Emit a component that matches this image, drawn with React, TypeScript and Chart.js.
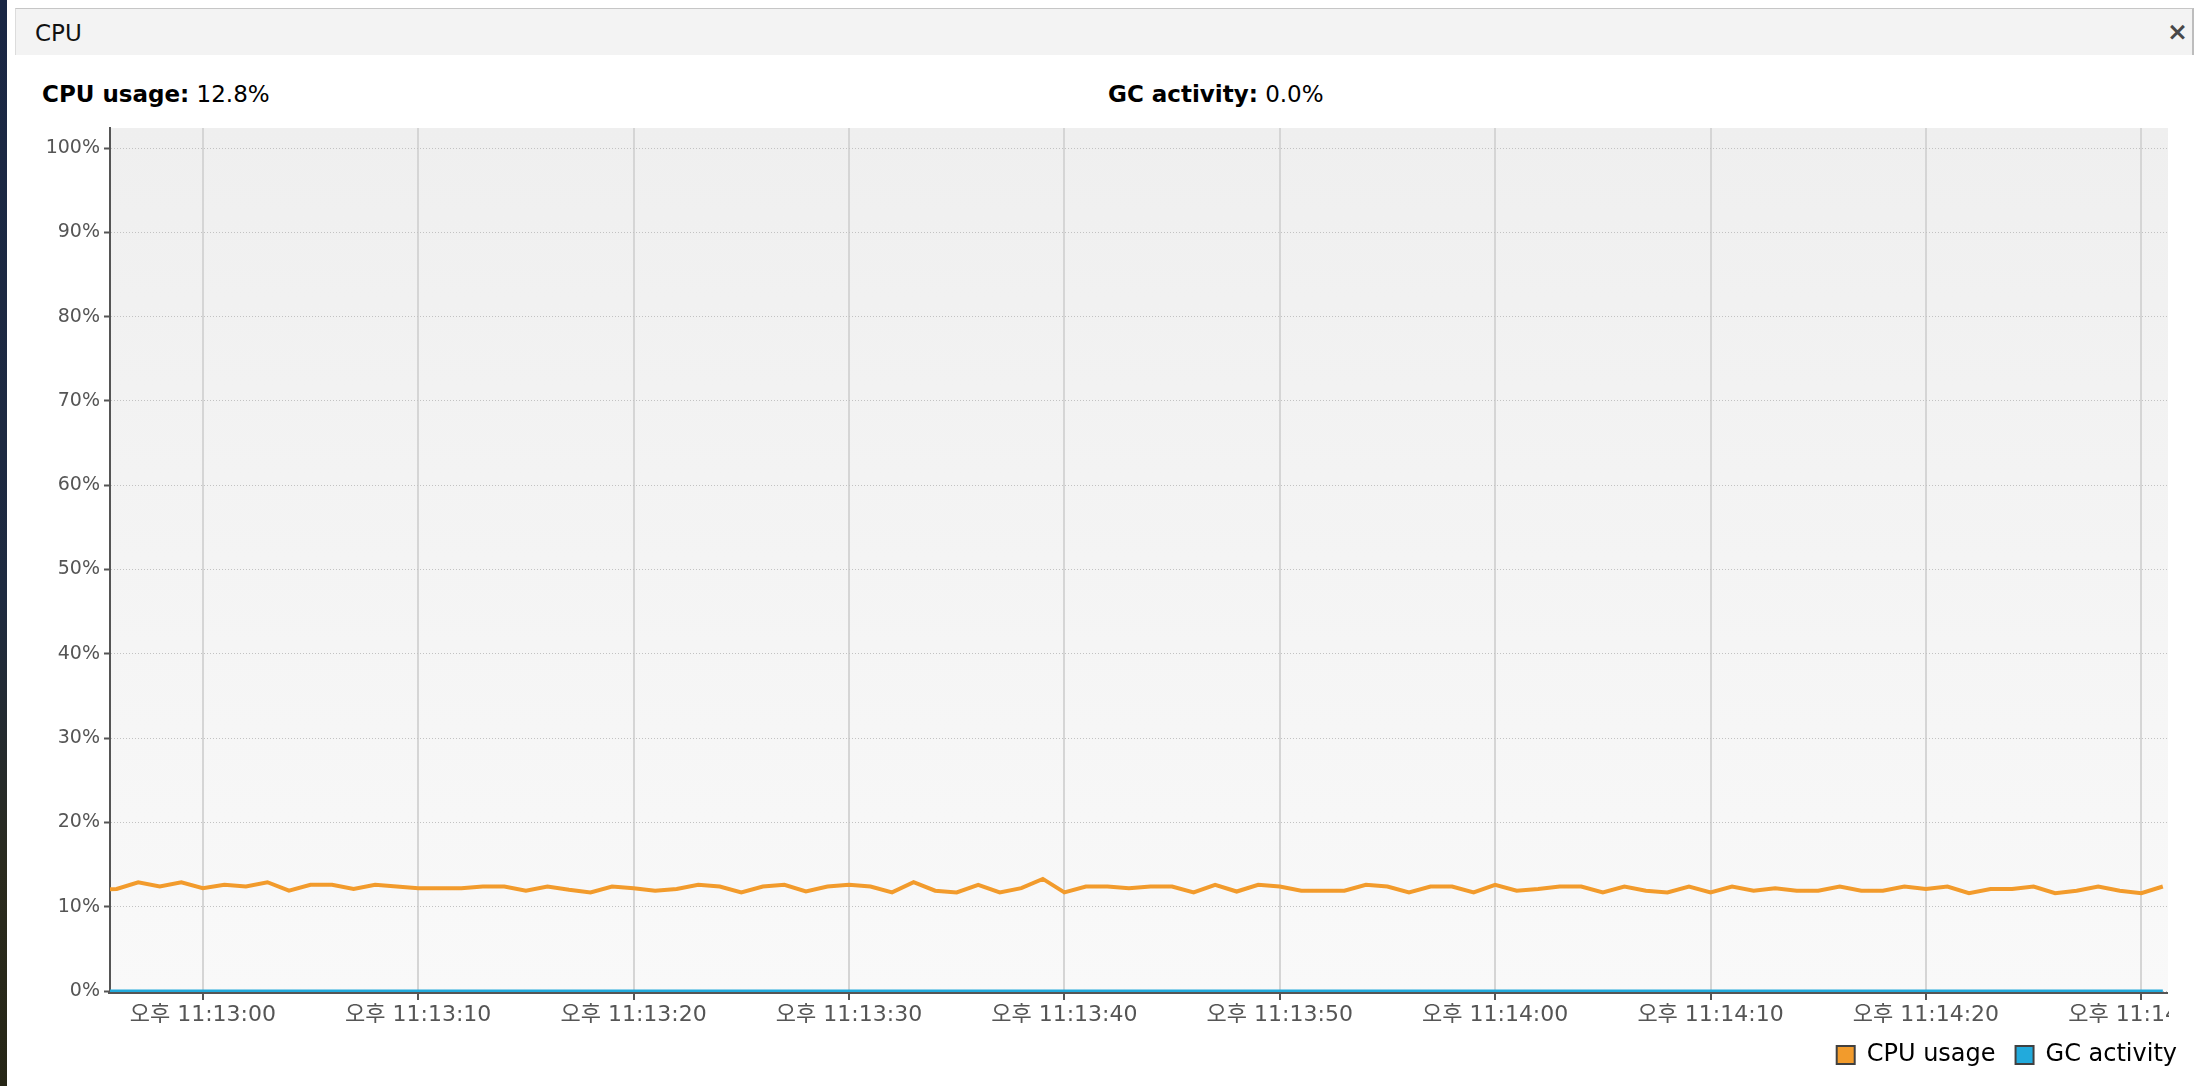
import React, { useEffect, useRef } from 'react';
import { Chart, registerables } from 'chart.js';

Chart.register(...registerables);

// Sample times in seconds after 오후 11:12:00 (one sample per second)
const sampleSeconds = [
  55, 56, 57, 58, 59, 60, 61, 62, 63, 64, 65, 66, 67, 68, 69, 70, 71, 72, 73, 74,
  75, 76, 77, 78, 79, 80, 81, 82, 83, 84, 85, 86, 87, 88, 89, 90, 91, 92, 93, 94,
  95, 96, 97, 98, 99, 100, 101, 102, 103, 104, 105, 106, 107, 108, 109, 110, 111, 112, 113, 114,
  115, 116, 117, 118, 119, 120, 121, 122, 123, 124, 125, 126, 127, 128, 129, 130, 131, 132, 133, 134,
  135, 136, 137, 138, 139, 140, 141, 142, 143, 144, 145, 146, 147, 148, 149, 150, 151,
];

const cpuUsage = [
  12.0, 12.1, 12.9, 12.4, 12.9, 12.2, 12.6, 12.4, 12.9, 11.9, 12.6, 12.6, 12.1, 12.6, 12.4, 12.2, 12.2, 12.2, 12.4, 12.4,
  11.9, 12.4, 12.0, 11.7, 12.4, 12.2, 11.9, 12.1, 12.6, 12.4, 11.7, 12.4, 12.6, 11.8, 12.4, 12.6, 12.4, 11.7, 12.9, 11.9,
  11.7, 12.6, 11.7, 12.2, 13.3, 11.7, 12.4, 12.4, 12.2, 12.4, 12.4, 11.7, 12.6, 11.8, 12.6, 12.4, 11.9, 11.9, 11.9, 12.6,
  12.4, 11.7, 12.4, 12.4, 11.7, 12.6, 11.9, 12.1, 12.4, 12.4, 11.7, 12.4, 11.9, 11.7, 12.4, 11.7, 12.4, 11.9, 12.2, 11.9,
  11.9, 12.4, 11.9, 11.9, 12.4, 12.1, 12.4, 11.6, 12.1, 12.1, 12.4, 11.6, 11.9, 12.4, 11.9, 11.6, 12.4,
];

const gcActivity = [
  0, 0, 0, 0, 0, 0, 0, 0, 0, 0, 0, 0, 0, 0, 0, 0, 0, 0, 0, 0,
  0, 0, 0, 0, 0, 0, 0, 0, 0, 0, 0, 0, 0, 0, 0, 0, 0, 0, 0, 0,
  0, 0, 0, 0, 0, 0, 0, 0, 0, 0, 0, 0, 0, 0, 0, 0, 0, 0, 0, 0,
  0, 0, 0, 0, 0, 0, 0, 0, 0, 0, 0, 0, 0, 0, 0, 0, 0, 0, 0, 0,
  0, 0, 0, 0, 0, 0, 0, 0, 0, 0, 0, 0, 0, 0, 0, 0, 0,
];

const xTickValues = [60, 70, 80, 90, 100, 110, 120, 130, 140, 150];
const xTickLabels = [
  '오후 11:13:00', '오후 11:13:10', '오후 11:13:20', '오후 11:13:30', '오후 11:13:40',
  '오후 11:13:50', '오후 11:14:00', '오후 11:14:10', '오후 11:14:20', '오후 11:14:30',
];
const yTickValues = [0, 10, 20, 30, 40, 50, 60, 70, 80, 90, 100];

const seriesNames = ['CPU usage', 'GC activity'];
const statLabels = ['CPU usage:', 'GC activity:'];
const statValues = ['12.8%', '0.0%'];

const X_MIN = 55.69;
const X_MAX = 151.24;
const Y_MAX = 102.38;

const ORANGE = '#f29b2c';
const BLUE = '#22aadc';
const AXIS = '#555555';
const FONT = "'DejaVu Sans', 'Noto Sans CJK KR', sans-serif";

const bgPlugin = {
  id: 'plotBg',
  beforeDraw(chart: any) {
    const { ctx, chartArea } = chart;
    if (!chartArea) return;
    const g = ctx.createLinearGradient(0, chartArea.top, 0, chartArea.bottom);
    g.addColorStop(0, '#efefef');
    g.addColorStop(1, '#f9f9f9');
    ctx.save();
    ctx.fillStyle = g;
    ctx.fillRect(chartArea.left, chartArea.top, chartArea.right - chartArea.left, chartArea.bottom - chartArea.top);
    ctx.restore();
  },
};

// Horizontal axis line sits just below the plot, drawn over the series
const xAxisLinePlugin = {
  id: 'xAxisLine',
  afterDatasetsDraw(chart: any) {
    const { ctx, chartArea } = chart;
    ctx.save();
    ctx.strokeStyle = AXIS;
    ctx.lineWidth = 2;
    ctx.beginPath();
    ctx.moveTo(chartArea.left - 2, chartArea.bottom + 2);
    ctx.lineTo(chartArea.right, chartArea.bottom + 2);
    ctx.stroke();
    ctx.restore();
  },
};

const clipLabelsPlugin = {
  id: 'clipLabels',
  afterDraw(chart: any) {
    const { ctx, chartArea, width } = chart;
    ctx.save();
    ctx.fillStyle = '#ffffff';
    ctx.fillRect(chartArea.right + 1, chartArea.bottom + 4, width - chartArea.right, 28);
    ctx.restore();
  },
};

function CpuChart() {
  const ref = useRef<HTMLCanvasElement | null>(null);
  useEffect(() => {
    const canvas = ref.current;
    if (!canvas) return;
    const chart = new Chart(canvas, {
      type: 'line',
      data: {
        datasets: [
          {
            label: seriesNames[0],
            data: sampleSeconds.map((s, i) => ({ x: s, y: cpuUsage[i] })),
            borderColor: ORANGE,
            backgroundColor: ORANGE,
            borderWidth: 4,
            pointRadius: 0,
            tension: 0,
            fill: false,
          },
          {
            label: seriesNames[1],
            data: sampleSeconds.map((s, i) => ({ x: s, y: gcActivity[i] })),
            borderColor: BLUE,
            backgroundColor: BLUE,
            borderWidth: 3,
            pointRadius: 0,
            tension: 0,
            fill: false,
            clip: { left: 0, right: 0, top: 0, bottom: 4 },
          },
        ],
      },
      options: {
        animation: false,
        responsive: false,
        events: [],
        layout: { padding: { left: 0, top: 8, right: 11, bottom: 9 } },
        scales: {
          x: {
            type: 'linear',
            position: 'bottom',
            min: X_MIN,
            max: X_MAX,
            afterBuildTicks: (s: any) => {
              s.ticks = xTickValues.map((v) => ({ value: v }));
            },
            afterFit: (s: any) => {
              s.height = 32;
              s.paddingLeft = 0;
              s.paddingRight = 0;
            },
            ticks: {
              callback: (v: any) => {
                const i = xTickValues.indexOf(Number(v));
                return i >= 0 ? xTickLabels[i] : '';
              },
              font: { family: FONT, size: 22 },
              color: AXIS,
              maxRotation: 0,
              minRotation: 0,
              autoSkip: false,
              padding: 2,
            },
            grid: { color: '#d5d5d5', lineWidth: 2, tickColor: AXIS, tickLength: 9, tickWidth: 2 },
            border: { display: false },
          },
          y: {
            type: 'linear',
            position: 'left',
            min: 0,
            max: Y_MAX,
            afterBuildTicks: (s: any) => {
              s.ticks = yTickValues.map((v) => ({ value: v }));
            },
            afterFit: (s: any) => {
              s.width = 110;
              s.paddingTop = 0;
              s.paddingBottom = 0;
            },
            ticks: {
              callback: (v: any) => v + '%',
              font: { family: FONT, size: 19 },
              color: AXIS,
              padding: 4,
            },
            grid: {
              color: '#c2c2c2',
              lineWidth: 1,
              tickColor: AXIS,
              tickLength: 6,
              tickWidth: 2,
              tickBorderDash: [],
            },
            border: { color: AXIS, width: 2, dash: [1, 2] },
          },
          yRight: {
            type: 'linear',
            position: 'right',
            min: 0,
            max: 1,
            afterFit: (s: any) => {
              s.width = 29;
            },
            ticks: { display: false },
            grid: { display: false, drawTicks: false },
            border: { display: false },
          },
        },
        plugins: {
          legend: {
            display: true,
            position: 'bottom',
            align: 'end',
            labels: {
              font: { family: FONT, size: 24 },
              color: '#000000',
              boxWidth: 18,
              boxHeight: 18,
              padding: 20,
              generateLabels: () => [
                { text: seriesNames[0], fillStyle: ORANGE, strokeStyle: '#404040', lineWidth: 2, hidden: false, datasetIndex: 0 },
                { text: seriesNames[1], fillStyle: BLUE, strokeStyle: '#404040', lineWidth: 2, hidden: false, datasetIndex: 1 },
              ],
            },
          },
          tooltip: { enabled: false },
        },
      } as any,
      plugins: [bgPlugin, xAxisLinePlugin, clipLabelsPlugin],
    });
    return () => chart.destroy();
  }, []);
  return (
    <canvas
      ref={ref}
      width={2208}
      height={966}
      style={{ position: 'absolute', left: 0, top: 120, width: 2208, height: 966 }}
    />
  );
}

export default function App() {
  return (
    <div
      style={{
        position: 'absolute',
        left: 0,
        top: 0,
        width: 2208,
        height: 1086,
        background: '#ffffff',
        overflow: 'hidden',
        fontFamily: FONT,
      }}
    >
      <div
        style={{
          position: 'absolute',
          left: 0,
          top: 0,
          width: 7,
          height: 1086,
          background: 'linear-gradient(#1a2744 0%, #1e2a40 55%, #2a2a1e 80%, #262616 100%)',
        }}
      />
      <div
        style={{
          position: 'absolute',
          left: 15,
          top: 8,
          width: 2179,
          height: 47,
          background: '#f3f3f3',
          borderTop: '1px solid #c6c6c6',
          borderLeft: '1px solid #dcdcdc',
          borderRight: '2px solid #bdbdbd',
          boxSizing: 'border-box',
        }}
      />
      <div
        style={{
          position: 'absolute',
          left: 35,
          top: 22,
          fontSize: 23,
          lineHeight: 1,
          color: '#111111',
          whiteSpace: 'nowrap',
        }}
      >
        CPU
      </div>
      <div
        style={{
          position: 'absolute',
          left: 2167,
          top: 19,
          fontSize: 25,
          lineHeight: 1,
          fontWeight: 'bold',
          color: '#484848',
        }}
      >
        ×
      </div>
      <div
        style={{
          position: 'absolute',
          left: 42,
          top: 83,
          fontSize: 23,
          lineHeight: 1,
          color: '#000000',
          whiteSpace: 'nowrap',
        }}
      >
        <b>{statLabels[0]}</b> {statValues[0]}
      </div>
      <div
        style={{
          position: 'absolute',
          left: 1108,
          top: 83,
          fontSize: 23,
          lineHeight: 1,
          color: '#000000',
          whiteSpace: 'nowrap',
        }}
      >
        <b>{statLabels[1]}</b> {statValues[1]}
      </div>
      <CpuChart />
    </div>
  );
}
